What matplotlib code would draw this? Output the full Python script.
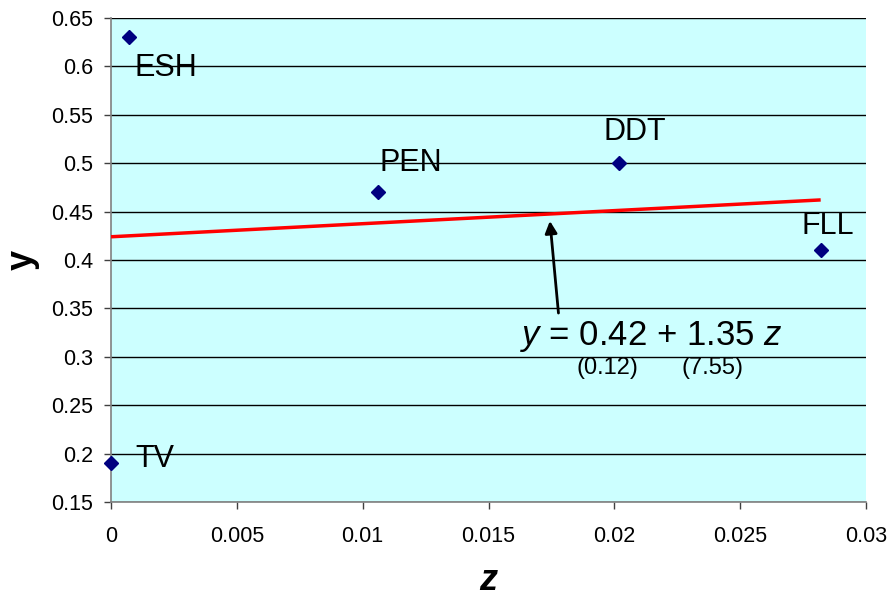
import matplotlib.pyplot as plt
import numpy as np

plt.rcParams["font.family"] = ["Liberation Sans", "DejaVu Sans"]
plt.rcParams["mathtext.fontset"] = "custom"
plt.rcParams["mathtext.rm"] = "Liberation Sans"
plt.rcParams["mathtext.it"] = "Liberation Sans:italic"

# Data
names = ["ESH", "PEN", "DDT", "FLL", "TV"]
z = [0.0007, 0.0106, 0.0202, 0.0282, 0.0000]
y = [0.63, 0.47, 0.50, 0.41, 0.19]

# Fitted line (as drawn)
intercept = 0.424
slope = 1.35
fit_z = [0.0, 0.0282]

equation = "$y$ = 0.42 + 1.35 $z$"
std_errors = ["(0.12)", "(7.55)"]

# label offsets in pixels from each point
label_offsets = {
    "ESH": (6, -31),
    "PEN": (2, 29),
    "DDT": (-16, 31),
    "FLL": (-19, 24),
    "TV": (24, 4),
}

figure = plt.figure(figsize=(8.89, 5.96), dpi=100)
axis = figure.add_axes([0.1249, 0.1577, 0.9741 - 0.1249, 0.9698 - 0.1577])
axis.set_facecolor("#CCFFFF")

axis.set_xlim(0, 0.03)
axis.set_ylim(0.15, 0.65)
axis.set_xticks(np.arange(0, 0.0301, 0.005))
axis.set_yticks(np.arange(0.15, 0.651, 0.05))
axis.set_xticklabels(["0", "0.005", "0.01", "0.015", "0.02", "0.025", "0.03"])
axis.set_yticklabels(["0.15", "0.2", "0.25", "0.3", "0.35", "0.4", "0.45",
                      "0.5", "0.55", "0.6", "0.65"])
axis.grid(axis="y", color="black", linewidth=1.0)
axis.set_axisbelow(True)
axis.tick_params(direction="out", length=5, width=1, color="#404040",
                 labelsize=15.5)
axis.tick_params(axis="x", pad=12)
axis.tick_params(axis="y", pad=8)

for side in ["right", "top"]:
    axis.spines[side].set_visible(False)
for side in ["left", "bottom"]:
    axis.spines[side].set_color("#808080")
    axis.spines[side].set_linewidth(1.2)

fit_y = [intercept + slope * v for v in fit_z]
axis.plot(fit_z, fit_y, color="red", linewidth=2.5, solid_capstyle="butt", zorder=3)

axis.plot(z, y, linestyle="none", marker="D", markersize=7.5,
          color="#000080", zorder=4, clip_on=False)

for name, zi, yi in zip(names, z, y):
    axis.annotate(name, (zi, yi), xytext=label_offsets[name],
                  textcoords="offset pixels", fontsize=22,
                  ha="left", va="center", zorder=5)

axis.annotate("", xy=(0.01744, 0.4403), xytext=(0.01778, 0.3452),
              arrowprops=dict(arrowstyle="-|>", color="black", lw=2,
                              mutation_scale=18, shrinkA=0, shrinkB=0),
              zorder=5)

axis.text(0.02146, 0.3205, equation, fontsize=25, ha="center", va="center")
axis.text(0.01971, 0.2884, std_errors[0], fontsize=17, ha="center", va="center")
axis.text(0.02392, 0.2884, std_errors[1], fontsize=17, ha="center", va="center")

figure.text(488 / 889, 1 - 580 / 596, "z", fontsize=26, fontweight="bold",
            style="italic", ha="center", va="center")
figure.text(22 / 889, 1 - 260 / 596, "y", fontsize=26, fontweight="bold",
            rotation=90, ha="center", va="center")

figure.savefig("out.png", dpi=100)
